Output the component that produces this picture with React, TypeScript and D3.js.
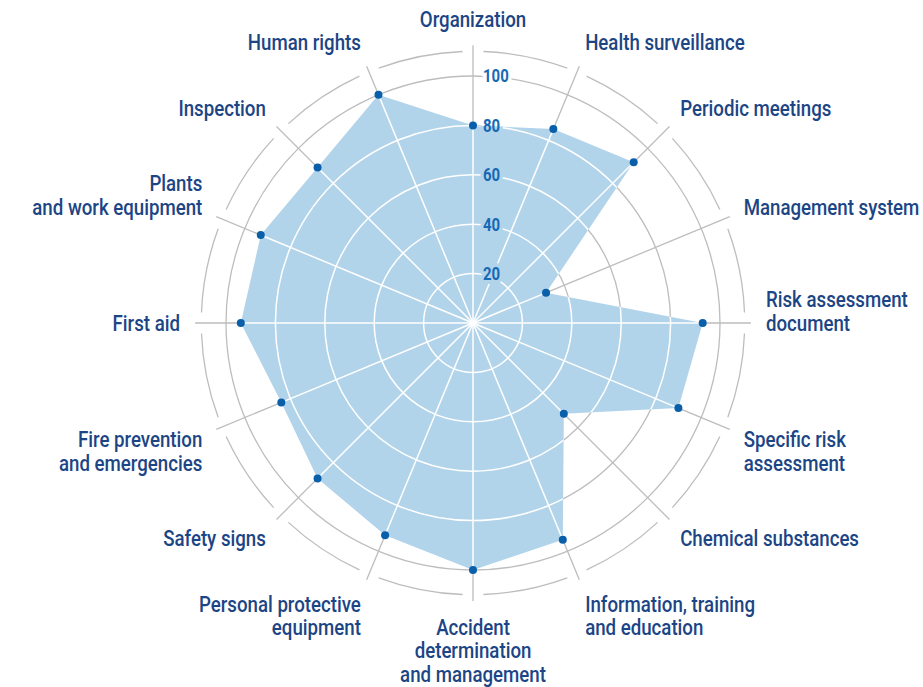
import React, { useEffect, useRef } from 'react';
import * as d3 from 'd3';

// axis labels, clockwise from the top; each entry is the lines of one label
const categories: string[][] = [
  ['Organization'],
  ['Health surveillance'],
  ['Periodic meetings'],
  ['Management system'],
  ['Risk assessment', 'document'],
  ['Specific risk', 'assessment'],
  ['Chemical substances'],
  ['Information, training', 'and education'],
  ['Accident', 'determination', 'and management'],
  ['Personal protective', 'equipment'],
  ['Safety signs'],
  ['Fire prevention', 'and emergencies'],
  ['First aid'],
  ['Plants', 'and work equipment'],
  ['Inspection'],
  ['Human rights'],
];

const scores = [80, 85, 92, 32, 93, 90, 52, 95, 100, 93, 89, 84, 94, 93, 89, 100];

const tickValues = [20, 40, 60, 80, 100];

const W = 923;
const H = 687;
const cx = 473;
const cy = 323;
const FONT = 'Roboto, sans-serif';
const NARROW = 0.83; // horizontal squeeze to get a condensed face
const FILL = '#b2d4ea';
const GRAY = '#bdbdbd';

const App = () => {
  const svgRef = useRef<SVGSVGElement>(null);

  useEffect(() => {
    const svg = d3.select(svgRef.current);
    svg.selectAll('*').remove();

    const n = categories.length;
    const r = d3.scaleLinear().domain([0, 100]).range([0, 247]);
    const angle = (i: number) => (i * 2 * Math.PI) / n; // clockwise from top
    const px = (i: number, v: number) => cx + r(v) * Math.sin(angle(i));
    const py = (i: number, v: number) => cy - r(v) * Math.cos(angle(i));

    const g = svg.append('g');

    // gray grid
    const grid = g.append('g').attr('fill', 'none').attr('stroke', GRAY).attr('stroke-width', 1.3);
    tickValues.forEach(t => {
      grid.append('circle').attr('cx', cx).attr('cy', cy).attr('r', r(t));
    });
    // outer ring broken at each spoke
    const gap = 2.2 * Math.PI / 180;
    d3.range(n).forEach(i => {
      const a0 = angle(i) - Math.PI / 2 + gap;
      const a1 = angle(i + 1) - Math.PI / 2 - gap;
      const p = d3.path();
      p.arc(cx, cy, r(110), a0, a1);
      grid.append('path').attr('d', p.toString());
    });
    d3.range(n).forEach(i => {
      grid.append('line')
        .attr('x1', cx).attr('y1', cy)
        .attr('x2', px(i, 112.5)).attr('y2', py(i, 112.5));
    });

    const tickText = (sel: any, stroke: string, fill: string, sw: number) => {
      sel.selectAll('g')
        .data(tickValues)
        .enter()
        .append('g')
        .attr('transform', (d: number) => `translate(${cx + 10},${cy - r(d)}) scale(${NARROW},1)`)
        .append('text')
        .attr('dy', '0.36em')
        .attr('font-family', FONT)
        .attr('font-weight', 'bold')
        .attr('font-size', 18)
        .attr('fill', fill)
        .attr('stroke', stroke)
        .attr('stroke-width', sw)
        .attr('stroke-linejoin', 'round')
        .text((d: number) => d);
    };

    // white halo under the tick labels (outside the shape)
    tickText(g.append('g'), '#fff', '#fff', 8);

    // the score shape
    const pts: [number, number][] = scores.map((v, i) => [px(i, v), py(i, v)]);
    const line = d3.line().curve(d3.curveLinearClosed);
    g.append('path').attr('d', line(pts)).attr('fill', FILL);

    svg.append('clipPath').attr('id', 'shape-clip')
      .append('path').attr('d', line(pts));

    // white grid inside the shape
    const inner = g.append('g').attr('clip-path', 'url(#shape-clip)');
    const wg = inner.append('g').attr('fill', 'none').attr('stroke', '#fff').attr('stroke-width', 1.5);
    tickValues.forEach(t => {
      wg.append('circle').attr('cx', cx).attr('cy', cy).attr('r', r(t));
    });
    d3.range(n).forEach(i => {
      wg.append('line')
        .attr('x1', cx).attr('y1', cy)
        .attr('x2', px(i, 112.5)).attr('y2', py(i, 112.5));
    });
    tickText(inner.append('g'), FILL, FILL, 8);

    // points
    g.append('g')
      .selectAll('circle')
      .data(scores)
      .enter()
      .append('circle')
      .attr('cx', (d, i) => px(i, d))
      .attr('cy', (d, i) => py(i, d))
      .attr('r', 4)
      .attr('fill', '#0a5fab');

    // tick labels
    tickText(g.append('g'), 'none', '#1769b4', 0);

    // category labels
    const lineH = 23.5;
    const labels = g.append('g')
      .attr('font-family', FONT)
      .attr('font-weight', 500)
      .attr('font-size', 22.5)
      .attr('fill', '#1c4585');
    categories.forEach((lines, i) => {
      const s = Math.sin(angle(i));
      const c = Math.cos(angle(i));
      const x = cx + 293 * s;
      const y = cy - 304 * c + 8;
      const anchor = Math.abs(s) < 0.1 ? 'middle' : s > 0 ? 'start' : 'end';
      // upper half: anchor is the last line, lower half: the first line
      const first = c >= -0.1 ? y - (lines.length - 1) * lineH : y;
      const t = labels.append('g')
        .attr('transform', `translate(${x},0) scale(${NARROW},1)`)
        .append('text').attr('text-anchor', anchor);
      lines.forEach((ln, k) => {
        t.append('tspan').attr('x', 0).attr('y', first + k * lineH).text(ln);
      });
    });
  }, []);

  return (
    <svg
      ref={svgRef}
      width={W}
      height={H}
      style={{ position: 'absolute', left: 0, top: 0, background: '#fff' }}
    />
  );
};

export default App;
